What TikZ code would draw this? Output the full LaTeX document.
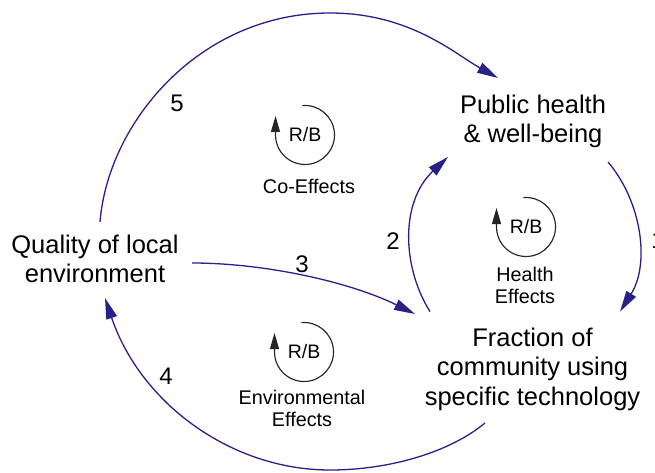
\documentclass[tikz,border=0pt]{standalone}
\usepackage{fontspec}
\setmainfont{Liberation Sans}
\usetikzlibrary{arrows.meta,calc}
\definecolor{linkblue}{RGB}{42,32,138}
\begin{document}
\begin{tikzpicture}[x=1pt,y=1pt,
  mainlbl/.style={align=center, inner sep=0pt, font=\fontsize{25.5}{29.5}\selectfont},
  numlbl/.style={inner sep=0pt, font=\fontsize{24}{28}\selectfont},
  smalllbl/.style={align=center, inner sep=0pt, font=\fontsize{19.8}{22.5}\selectfont},
  rblbl/.style={inner sep=0pt, font=\fontsize{19.5}{22}\selectfont},
  link/.style={draw=linkblue, line width=1.3pt, -{Triangle[length=21pt,width=11pt]}},
  loopsym/.style={draw=black!85, line width=1.15pt, -{Triangle[length=16pt,width=9pt]}}
]
\useasboundingbox (0,0) rectangle (655,472);
\clip (0,0) rectangle (655,472);
\fill[white] (0,0) rectangle (655,472);

% main variables
\node[mainlbl] (ph) at (533,350) {\strut Public health\\\strut \& well-being};
\node[mainlbl] (fr) at (532.5,102.4) {\strut Fraction of\\\strut community using\\\strut specific technology};
\node[mainlbl] (ql) at (95,210) {\strut Quality of local\\\strut environment};

% link numbers
\node[numlbl] (n1) at (658,232) {1};
\node[numlbl] (n2) at (393,231) {2};
\node[numlbl] (n3) at (302,208) {3};
\node[numlbl] (n4) at (166,96) {4};
\node[numlbl] (n5) at (177,369) {5};

% loop markers
\node[rblbl] (rbco) at (305,337) {R/B};
\node[smalllbl] (lco) at (309,283.5) {\strut Co-Effects};
\node[rblbl] (rbhe) at (526,245) {R/B};
\node[smalllbl] (lhe) at (525,184) {\strut Health\\\strut Effects};
\node[rblbl] (rben) at (304,120) {R/B};
\node[smalllbl] (len) at (302,61) {\strut Environmental\\\strut Effects};

\foreach \c in {rbco,rbhe,rben}{
  \draw[loopsym] (\c.center) ++(95:29.5) arc[start angle=95,end angle=-180,radius=29.5] -- ++(0,19);
}

% connectors
\draw[link] ($(ql)+(5,40)$) .. controls (108,350) and (200,459) .. (330,459)
  .. controls (410,459) and (455,418) .. ($(ph)+(-35,44)$);
\draw[link] ($(ph)+(75,-40)$) .. controls (642,270) and (650,208) .. ($(fr)+(87.5,58)$);
\draw[link] ($(fr)+(-102.5,58)$) .. controls (402,205) and (400,270) .. ($(ph)+(-85,-35)$);
\draw[link] ($(ql)+(97,-1)$) .. controls (265,209) and (350,190) .. ($(fr)+(-117.5,55.6)$);
\draw[link] ($(fr)+(-47.5,-53.4)$) .. controls (450,20) and (390,2) .. (330,2)
  .. controls (230,2) and (140,70) .. ($(ql)+(10,-36)$);
\end{tikzpicture}
\end{document}
